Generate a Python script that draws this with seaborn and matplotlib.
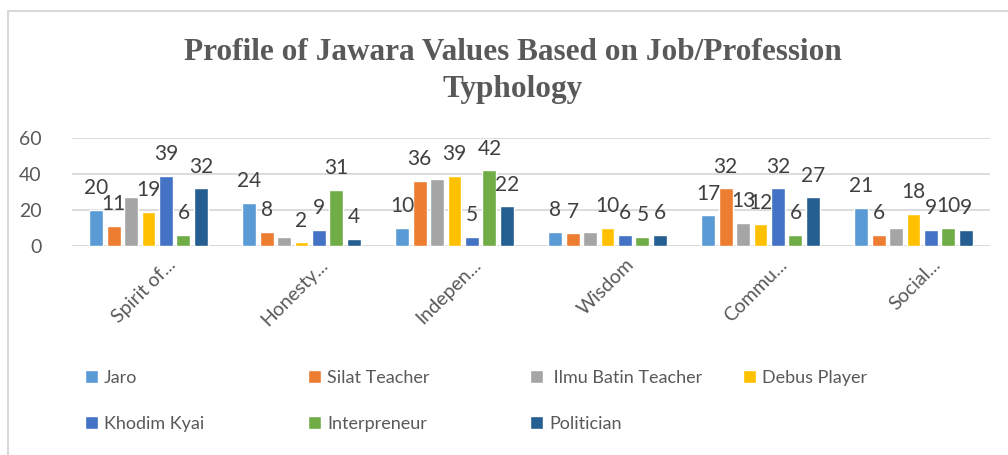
import matplotlib
matplotlib.use("Agg")
import matplotlib.pyplot as plt
from matplotlib.lines import Line2D
from matplotlib.transforms import offset_copy
import seaborn as sns
import pandas as pd

# ---- data ----
categories = ["Spirit of...", "Honesty...", "Indepen...", "Wisdom", "Commu...", "Social..."]
series = ["Jaro", "Silat Teacher", "Ilmu Batin Teacher", "Debus Player",
          "Khodim Kyai", "Interpreneur", "Politician"]
jaro = [20, 24, 10, 8, 17, 21]
silat_teacher = [11, 8, 36, 7, 32, 6]
ilmu_batin_teacher = [27, 5, 37, 8, 13, 10]
debus_player = [19, 2, 39, 10, 12, 18]
khodim_kyai = [39, 9, 5, 6, 32, 9]
interpreneur = [6, 31, 42, 5, 6, 10]
politician = [32, 4, 22, 6, 27, 9]
values = [jaro, silat_teacher, ilmu_batin_teacher, debus_player,
          khodim_kyai, interpreneur, politician]
# which data labels are visible in the reference (Ilmu Batin mostly hidden)
label_shown = [
    [True] * 6,
    [True] * 6,
    [False, False, False, False, True, False],
    [True] * 6,
    [True] * 6,
    [True] * 6,
    [True] * 6,
]
colors = ["#5B9BD5", "#ED7D31", "#A5A5A5", "#FFC000", "#4472C4", "#70AD47", "#255E91"]
legend_labels = ["Jaro", "Silat Teacher", " Ilmu Batin Teacher", "Debus Player",
                 "Khodim Kyai", "Interpreneur", "Politician"]
title = "Profile of Jawara Values Based on Job/Profession\nTyphology"
yticks = [0, 20, 40, 60]

rows = []
for s, vals in zip(series, values):
    for c, v in zip(categories, vals):
        rows.append({"category": c, "series": s, "value": v})
df = pd.DataFrame(rows)

# ---- figure ----
sns.set_theme(style="white")
plt.rcParams["font.family"] = ["Lato", "DejaVu Sans"]
TXT = "#595959"
GRID = "#D9D9D9"

W, H = 1008, 455
fig = plt.figure(figsize=(W / 100, H / 100), dpi=100)
ax = fig.add_axes([72 / W, 1 - 246 / H, (990 - 72) / W, 108 / H])

sns.barplot(data=df, x="category", y="value", hue="series", order=categories,
            hue_order=series, palette=colors, width=0.8, ax=ax,
            errorbar=None, saturation=1, legend=True)

handles, _ = ax.get_legend_handles_labels()
ax.get_legend().remove()

# narrow bars to leave gaps, add data labels
for ci, cont in enumerate(ax.containers):
    for bi, bar in enumerate(cont):
        w = bar.get_width()
        cx = bar.get_x() + w / 2
        nw = w * 0.8
        bar.set_x(cx - nw / 2)
        bar.set_width(nw)
        if label_shown[ci][bi]:
            ax.annotate(f"{values[ci][bi]:g}", xy=(cx, bar.get_height()),
                        xytext=(0, 8.5), textcoords="offset points",
                        ha="center", va="bottom", fontsize=15, color="#404040")

ax.set_ylim(0, 60)
ax.set_xlim(-0.5, len(categories) - 0.5)
ax.set_yticks(yticks)
ax.yaxis.grid(True, color=GRID, lw=1.3)
ax.set_axisbelow(True)
for sp in ax.spines.values():
    sp.set_visible(False)
ax.axhline(0, color=GRID, lw=1.8, zorder=0.5)
ax.set_xlabel("")
ax.set_ylabel("")
ax.tick_params(axis="y", length=0, pad=22, labelsize=14, labelcolor=TXT)
ax.tick_params(axis="x", length=0, pad=0, labelsize=14, labelcolor=TXT)
for lab in ax.get_xticklabels():
    lab.set_rotation(45)
    lab.set_ha("right")
    lab.set_va("center")
    lab.set_rotation_mode("anchor")
    lab.set_transform(offset_copy(lab.get_transform(), fig=fig, x=24, y=-16, units="dots"))

fig.text(513 / W, 1 - 71 / H, title, ha="center", va="center",
         fontsize=22.5, fontweight="bold", color=TXT,
         family=["Liberation Serif", "DejaVu Serif"], linespacing=1.4)

# legend items (Excel-style fixed grid)
leg_pos = [(85, 378), (308, 378), (530, 378), (743, 378),
           (85, 424), (308, 424), (530, 424)]
for h, lab, (lx, ly) in zip(handles, legend_labels, leg_pos):
    fig.legend(handles=[h], labels=[lab], loc="center left",
               bbox_to_anchor=(lx / W, 1 - ly / H), frameon=False,
               handlelength=0.7, handleheight=0.7, handletextpad=0.35,
               borderaxespad=0, borderpad=0, fontsize=13, labelcolor=TXT)

# chart border (top and left visible)
fig.add_artist(Line2D([8 / W, 1], [1 - 11 / H] * 2, transform=fig.transFigure,
                      color=GRID, lw=1.5))
fig.add_artist(Line2D([8 / W, 8 / W], [0, 1 - 11 / H], transform=fig.transFigure,
                      color=GRID, lw=1.5))

fig.savefig("out.png", dpi=100, facecolor="white")
